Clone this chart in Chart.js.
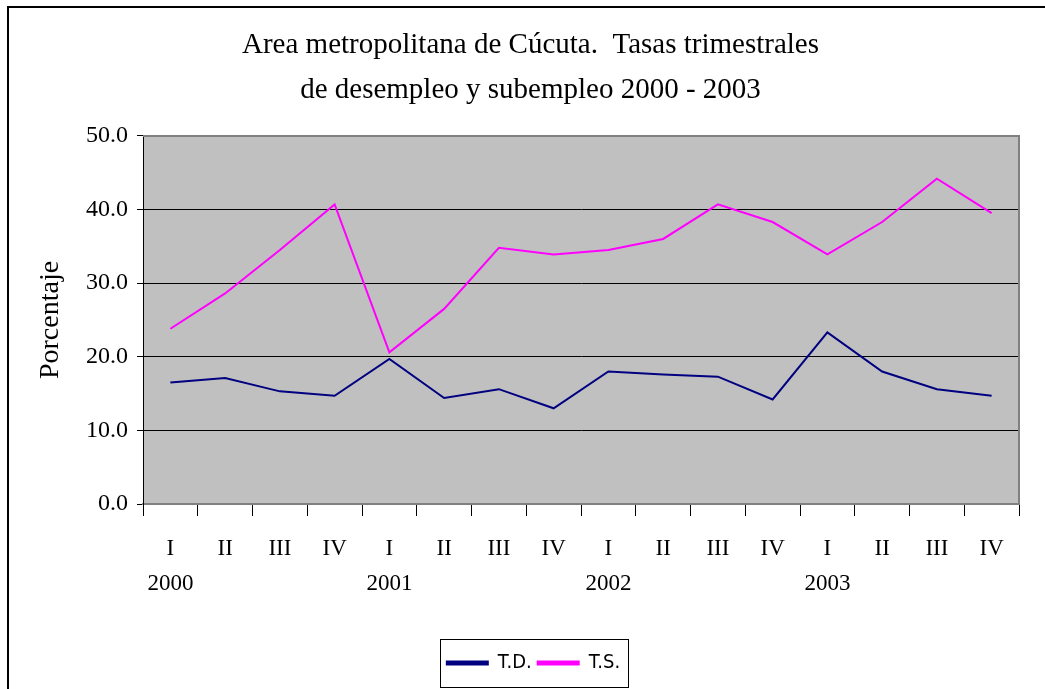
<!DOCTYPE html>
<html>
<head>
<meta charset="utf-8">
<title>Cúcuta desempleo y subempleo</title>
<script src="https://cdn.jsdelivr.net/npm/chart.js@4/dist/chart.umd.min.js"></script>
<style>
    body { margin: 0; background: #ffffff; }
    #wrap { position: relative; width: 1045px; height: 689px; }
</style>
</head>
<body>
<div id="wrap"><canvas id="myLineChart" width="1045" height="689"></canvas></div>
<script>
const quarters = ['I', 'II', 'III', 'IV'];
const years = ['2000', '2001', '2002', '2003'];
const tdValues = [16.5, 17.1, 15.3, 14.7, 19.7, 14.4, 15.6, 13.0, 18.0, 17.6, 17.3, 14.2, 23.3, 18.0, 15.6, 14.7];
const tsValues = [23.8, 28.6, 34.5, 40.7, 20.6, 26.5, 34.8, 33.9, 34.5, 36.0, 40.7, 38.3, 33.9, 38.3, 44.2, 39.5];
const seriesNames = ['T.D.', 'T.S.'];
const titleLines = ['Area metropolitana de Cúcuta.  Tasas trimestrales', 'de desempleo y subempleo 2000 - 2003'];

const serif = "'Liberation Serif', 'Times New Roman', serif";
const narrow = "'Liberation Sans Narrow', 'Arial Narrow', 'DejaVu Sans Condensed', 'Liberation Sans', sans-serif";

// quarter on first line, year under the first quarter only
const labels = [];
years.forEach(y => {
    quarters.forEach((q, i) => {
        labels.push(i === 0 ? [q, y] : [q, '']);
    });
});

const framePlugin = {
    id: 'frame',
    afterLayout(chart) {
        // title and legend sit a bit right of the canvas centre in the original
        if (chart.titleBlock) {
            chart.titleBlock.left += 21;
            chart.titleBlock.right += 21;
        }
        if (chart.legend) {
            chart.legend.left += 24;
            chart.legend.right += 24;
        }
    },
    beforeDraw(chart) {
        const ctx = chart.ctx;
        const a = chart.chartArea;
        ctx.save();
        ctx.fillStyle = '#ffffff';
        ctx.fillRect(0, 0, chart.width, chart.height);
        // outer chart border (only top and left visible)
        ctx.strokeStyle = '#000000';
        ctx.lineWidth = 2;
        ctx.beginPath();
        ctx.moveTo(8, chart.height + 5);
        ctx.lineTo(8, 7);
        ctx.lineTo(chart.width + 5, 7);
        ctx.stroke();
        // plot area
        ctx.fillStyle = '#c0c0c0';
        ctx.fillRect(a.left, a.top, a.right - a.left, a.bottom - a.top);
        ctx.restore();
    },
    beforeDatasetsDraw(chart) {
        const ctx = chart.ctx;
        const a = chart.chartArea;
        ctx.save();
        ctx.strokeStyle = '#808080';
        ctx.lineWidth = 2;
        ctx.beginPath();
        ctx.moveTo(a.left, a.top);
        ctx.lineTo(a.right, a.top);
        ctx.lineTo(a.right, a.bottom);
        ctx.stroke();
        ctx.restore();
    },
    afterDraw(chart) {
        const boxes = chart.legend && chart.legend.legendHitBoxes;
        if (!boxes || !boxes.length) return;
        const first = boxes[0];
        const last = boxes[boxes.length - 1];
        const ctx = chart.ctx;
        ctx.save();
        ctx.strokeStyle = '#000000';
        ctx.lineWidth = 1;
        ctx.strokeRect(Math.round(first.left - 7) + 0.5, Math.round(first.top - 14) + 0.5,
            Math.round((last.left + last.width) - first.left + 15), 48);
        ctx.restore();
    }
};

document.addEventListener('DOMContentLoaded', function () {
    const ctx = document.getElementById('myLineChart');

    const myLineChart = new Chart(ctx.getContext('2d'), {
        type: 'line',
        data: {
            labels: labels,
            datasets: [{
                label: seriesNames[0],
                data: tdValues,
                borderColor: '#000080',
                backgroundColor: '#000080',
                borderWidth: 2,
                pointRadius: 0,
                tension: 0
            }, {
                label: seriesNames[1],
                data: tsValues,
                borderColor: '#ff00ff',
                backgroundColor: '#ff00ff',
                borderWidth: 2,
                pointRadius: 0,
                tension: 0
            }]
        },
        options: {
            responsive: false,
            animation: false,
            devicePixelRatio: 1,
            layout: {
                padding: { left: 0, right: 26, top: 0, bottom: 6 }
            },
            plugins: {
                title: {
                    display: true,
                    text: titleLines,
                    color: '#000000',
                    font: { family: serif, size: 29, weight: 'normal', lineHeight: 1.55 },
                    padding: { top: 23, bottom: 23 }
                },
                legend: {
                    position: 'bottom',
                    labels: {
                        color: '#000000',
                        font: { family: narrow, size: 20 },
                        boxWidth: 41,
                        boxHeight: 3,
                        padding: 6
                    }
                },
                tooltip: { enabled: false }
            },
            scales: {
                x: {
                    offset: true,
                    grid: {
                        offset: true,
                        drawOnChartArea: false,
                        drawTicks: true,
                        tickLength: 12,
                        tickColor: '#000000'
                    },
                    border: { color: '#808080', width: 2 },
                    ticks: {
                        color: '#000000',
                        font: { family: serif, size: 23, lineHeight: 1.5 },
                        padding: 16,
                        maxRotation: 0,
                        autoSkip: false
                    },
                    afterFit: function (scale) {
                        scale.height = 143;
                    }
                },
                y: {
                    min: 0,
                    max: 50,
                    grid: {
                        color: '#000000',
                        lineWidth: 1,
                        tickLength: 6,
                        tickColor: '#000000'
                    },
                    border: { color: '#000000', width: 1 },
                    ticks: {
                        stepSize: 10,
                        color: '#000000',
                        font: { family: serif, size: 24 },
                        padding: 9,
                        callback: function (value) {
                            return Number(value).toFixed(1);
                        }
                    },
                    title: {
                        display: true,
                        text: 'Porcentaje',
                        color: '#000000',
                        font: { family: serif, size: 28 },
                        padding: { top: 34, bottom: 0 }
                    },
                    afterFit: function (scale) {
                        scale.width = 143;
                    }
                }
            }
        },
        plugins: [framePlugin]
    });
});
</script>
</body>
</html>
